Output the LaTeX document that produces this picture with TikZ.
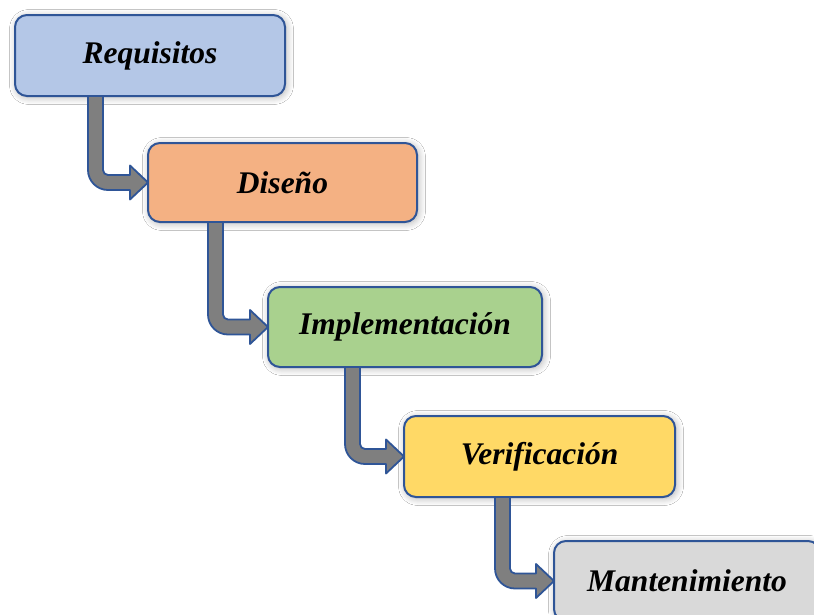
\documentclass[tikz,border=0pt]{standalone}
\usepackage{fontspec}
\setmainfont{Liberation Serif}
\usetikzlibrary{calc,shadows.blur}
\definecolor{edgeblue}{HTML}{2F5597}
\definecolor{cReq}{HTML}{B4C7E7}
\definecolor{cDis}{HTML}{F4B183}
\definecolor{cImp}{HTML}{A9D18E}
\definecolor{cVer}{HTML}{FFD966}
\definecolor{cMan}{HTML}{D9D9D9}
\definecolor{arrowgray}{HTML}{7F7F7F}
\tikzset{
  phase/.style={draw=edgeblue, line width=2pt, rounded corners=12pt, outer sep=0pt,
    inner sep=0pt, align=center,
    font=\fontsize{31.5}{36}\selectfont\bfseries\itshape,
    blur shadow={shadow xshift=1.5pt, shadow yshift=-1.5pt, shadow blur radius=7pt, shadow blur steps=10, shadow opacity=30}},
  flow/.style={draw=edgeblue, fill=arrowgray, line width=1.8pt, line join=round}
}
\newcommand\bentarrow[3]{%
  \draw[flow] let \p1=($(#1.south west)+(#3pt,0)$), \p2=(#2.west) in
    (\x1-7.5pt,\y1) -- (\x1-7.5pt,\y2-7.5pt+20pt)
    arc[start angle=180,end angle=270,radius=20pt]
    -- (\x2-18pt,\y2-7.5pt) -- (\x2-18pt,\y2-17pt) -- (\x2,\y2)
    -- (\x2-18pt,\y2+17pt) -- (\x2-18pt,\y2+7.5pt)
    -- (\x1+12.5pt,\y2+7.5pt)
    arc[start angle=270,end angle=180,radius=5pt]
    -- (\x1+7.5pt,\y1) -- cycle;}
\begin{document}
\begin{tikzpicture}[x=1pt,y=-1pt]
\fill[white] (0,0) rectangle (814,614);
\clip (0,0) rectangle (814,614);
\useasboundingbox (0,0) rectangle (814,614);
\node[phase, fill=cReq, minimum width=270pt, minimum height=81pt] (req) at (150,55.5) {Requisitos};
\node[phase, fill=cDis, minimum width=269pt, minimum height=79pt] (dis) at (282.5,182.5) {Diseño};
\node[phase, fill=cImp, minimum width=274pt, minimum height=80pt] (imp) at (405,327) {Implementación};
\node[phase, fill=cVer, minimum width=271pt, minimum height=81pt] (ver) at (539.5,456.5) {Verificación};
\node[phase, fill=cMan, minimum width=266pt, minimum height=80pt] (man) at (687,581) {Mantenimiento};
\bentarrow{req}{dis}{80.5}
\bentarrow{dis}{imp}{67.5}
\bentarrow{imp}{ver}{84.5}
\bentarrow{ver}{man}{98.5}
\end{tikzpicture}
\end{document}
